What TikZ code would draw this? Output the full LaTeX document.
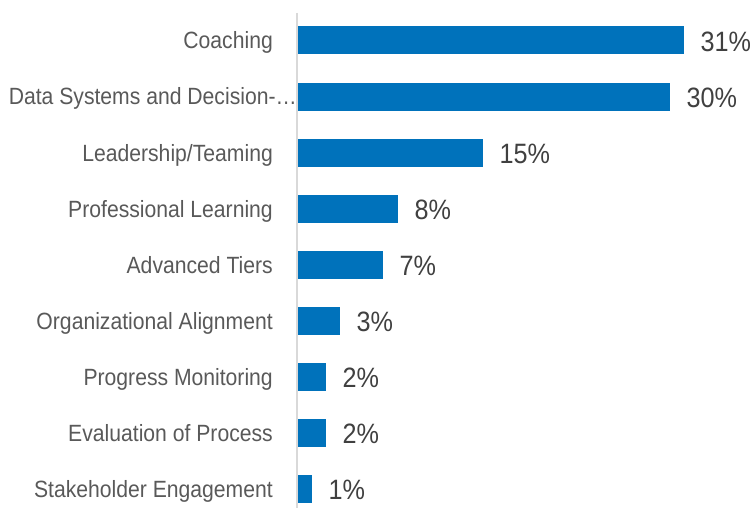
\documentclass[tikz,border=0pt]{standalone}
\usepackage{fontspec}
\setmainfont[FakeStretch=0.9]{Liberation Sans}
\usetikzlibrary{positioning}
\definecolor{barblue}{RGB}{0,114,187}
\definecolor{labelgray}{RGB}{89,89,89}
\definecolor{valuegray}{RGB}{64,64,64}
\definecolor{axisgray}{RGB}{217,217,217}
\tikzset{
x=1pt,
y=-1pt,
bar/.style={rectangle, fill=barblue, draw=none, anchor=west, minimum height=28pt, inner sep=0pt},
cat/.style={text=labelgray, font=\fontsize{23.5}{25}\selectfont, inner sep=0pt, text height=16.8pt, text depth=0pt},
val/.style={text=valuegray, font=\fontsize{28}{30}\selectfont, inner sep=0pt, text height=20pt, text depth=0pt, yshift=-1pt},
axis/.style={draw=axisgray, line width=1.6pt},
}

\begin{document}
\begin{tikzpicture}
        \useasboundingbox (0,0) rectangle (751,508);
        \coordinate (top) at (297,13);
        \coordinate (bottom) at (297,508);
        \draw[axis] (top) -- (bottom);

        \node[bar, minimum width=386pt] (b0) at (298,40.5) {};
        \node[bar, minimum width=372pt] (b1) at (298,96.6) {};
        \node[bar, minimum width=185pt] (b2) at (298,152.6) {};
        \node[bar, minimum width=100pt] (b3) at (298,208.6) {};
        \node[bar, minimum width=85pt] (b4) at (298,264.7) {};
        \node[bar, minimum width=42pt] (b5) at (298,320.7) {};
        \node[bar, minimum width=28pt] (b6) at (298,376.8) {};
        \node[bar, minimum width=28pt] (b7) at (298,432.8) {};
        \node[bar, minimum width=14pt] (b8) at (298,488.9) {};

        \node[cat, left=25pt of b0] (c0) {Coaching};
        \node[cat, left=1pt of b1] (c1) {Data Systems and Decision-…};
        \node[cat, left=25pt of b2] (c2) {Leadership/Teaming};
        \node[cat, left=25pt of b3] (c3) {Professional Learning};
        \node[cat, left=25pt of b4] (c4) {Advanced Tiers};
        \node[cat, left=25pt of b5] (c5) {Organizational Alignment};
        \node[cat, left=25pt of b6] (c6) {Progress Monitoring};
        \node[cat, left=25pt of b7] (c7) {Evaluation of Process};
        \node[cat, left=25pt of b8] (c8) {Stakeholder Engagement};

        \node[val, right=16pt of b0] (v0) {31\%};
        \node[val, right=16pt of b1] (v1) {30\%};
        \node[val, right=16pt of b2] (v2) {15\%};
        \node[val, right=16pt of b3] (v3) {8\%};
        \node[val, right=16pt of b4] (v4) {7\%};
        \node[val, right=16pt of b5] (v5) {3\%};
        \node[val, right=16pt of b6] (v6) {2\%};
        \node[val, right=16pt of b7] (v7) {2\%};
        \node[val, right=16pt of b8] (v8) {1\%};
    \end{tikzpicture}
\end{document}
